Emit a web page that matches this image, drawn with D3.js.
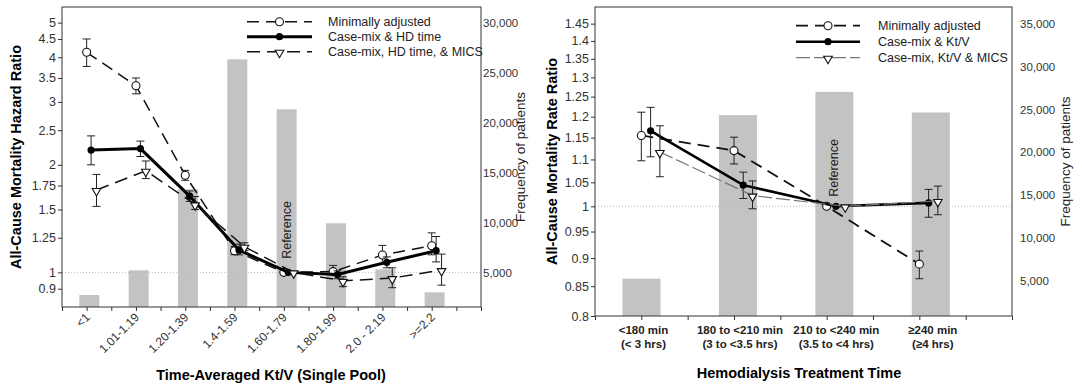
<!DOCTYPE html>
<html>
<head>
<meta charset="utf-8">
<script src="https://cdn.jsdelivr.net/npm/d3@7"></script>
<style>
  body { margin: 0; background: #fff; }
  svg { font-family: "Liberation Sans", Arial, sans-serif; }
</style>
</head>
<body>
<svg id="chart" width="1082" height="388"></svg>
<script>
// ---- left panel: time-averaged Kt/V ----
const ktvCategories = ["<1", "1.01-1.19", "1.20-1.39", "1.4-1.59", "1.60-1.79", "1.80-1.99", "2.0 - 2.19", ">=2.2"];
const ktvFreq = [2830, 5300, 13400, 26400, 21400, 10000, 5400, 3100];
const ktvMinimal   = [4.13, 3.33, 1.87, 1.15, 1, 1.005, 1.118, 1.187];
const ktvMinimalLo = [3.77, 3.16, 1.81, 1.12, null, 0.985, 1.055, 1.12];
const ktvMinimalHi = [4.5, 3.5, 1.93, 1.18, null, 1.046, 1.19, 1.29];
const ktvCase   = [2.2, 2.22, 1.635, 1.155, 1, 0.986, 1.067, 1.15];
const ktvCaseLo = [2.0, 2.11, 1.58, 1.12, null, 0.96, 1.03, 1.07];
const ktvCaseHi = [2.41, 2.33, 1.69, 1.2, null, 1.01, 1.105, 1.26];
const ktvMics   = [1.70, 1.925, 1.55, 1.18, 1, 0.947, 0.964, 1.015];
const ktvMicsLo = [1.53, 1.83, 1.5, 1.15, null, 0.912, 0.906, 0.921];
const ktvMicsHi = [1.88, 2.05, 1.63, 1.21, null, 0.972, 1.03, 1.125];
const ktvLegend = ["Minimally adjusted", "Case-mix & HD time", "Case-mix, HD time, & MICS"];
const ktvRatioTicks = [0.9, 1, 1.25, 1.5, 1.75, 2, 2.5, 3, 3.5, 4, 4.5, 5];
const ktvFreqTicks = [5000, 10000, 15000, 20000, 25000, 30000];

// ---- right panel: treatment time ----
const timeCategories = [["<180 min", "(< 3 hrs)"], ["180 to <210 min", "(3 to <3.5 hrs)"], ["210 to <240 min", "(3.5 to <4 hrs)"], ["\u2265240 min", "(\u22654 hrs)"]];
const timeFreq = [5270, 24330, 27040, 24640];
const timeMinimal   = [1.155, 1.12, 1, 0.889];
const timeMinimalLo = [1.097, 1.09, null, 0.863];
const timeMinimalHi = [1.211, 1.151, null, 0.913];
const timeCase   = [1.166, 1.044, 1, 1.007];
const timeCaseLo = [1.106, 1.016, null, 0.978];
const timeCaseHi = [1.223, 1.072, null, 1.035];
const timeMics   = [1.117, 1.022, 1, 1.011];
const timeMicsLo = [1.062, 0.995, null, 0.983];
const timeMicsHi = [1.178, 1.053, null, 1.042];
const timeLegend = ["Minimally adjusted", "Case-mix & Kt/V", "Case-mix, Kt/V & MICS"];
const timeRatioTicks = [0.8, 0.85, 0.9, 0.95, 1, 1.05, 1.1, 1.15, 1.2, 1.25, 1.3, 1.35, 1.4, 1.45];
const timeFreqTicks = [5000, 10000, 15000, 20000, 25000, 30000, 35000];

const svg = d3.select("#chart");
const BAR = "#c3c3c3";

function marker(sel, kind, x, y) {
  if (kind === "open") {
    sel.append("circle").attr("cx", x).attr("cy", y).attr("r", 4)
      .attr("fill", "#fff").attr("stroke", "#111").attr("stroke-width", 1.1);
  } else if (kind === "filled") {
    sel.append("circle").attr("cx", x).attr("cy", y).attr("r", 3.6).attr("fill", "#000");
  } else {
    sel.append("path").attr("d", d3.symbol(d3.symbolTriangle, 32)())
      .attr("transform", `translate(${x},${y + 1}) rotate(180)`)
      .attr("fill", "#fff").attr("stroke", "#111").attr("stroke-width", 1.1);
  }
}

function drawPanel(p) {
  const g = svg.append("g");
  const n = p.categories.length;
  const x = d3.scaleLinear().domain([-0.5, n]).range([p.left, p.right]);
  const slot = x(1) - x(0);
  const y = d3.scaleLog().domain(p.ratioDomain).range([p.bottom, p.top]);
  const yf = d3.scaleLinear().domain(p.freqDomain).range([p.bottom, p.top]);

  // frequency bars
  g.selectAll(".bar").data(p.freq).enter().append("rect")
    .attr("x", (d, i) => p.barX(i) - p.barWidth / 2)
    .attr("y", d => yf(d))
    .attr("width", p.barWidth)
    .attr("height", d => p.bottom - yf(d))
    .attr("fill", BAR);

  // dotted line at ratio 1
  g.append("line")
    .attr("x1", p.left).attr("x2", p.right)
    .attr("y1", y(1)).attr("y2", y(1))
    .attr("stroke", "#bbb").attr("stroke-width", 1).attr("stroke-dasharray", "1,2");

  g.append("text")
    .attr("transform", `translate(${p.barX(p.refIndex) + 4},${p.refY}) rotate(-90)`)
    .attr("text-anchor", "middle").attr("font-size", 12.5).attr("fill", "#222")
    .text("Reference");

  // series
  p.series.forEach(s => {
    const sx = i => x(i) + s.offset * slot;
    const line = d3.line().x((d, i) => sx(i)).y(d => y(d));
    g.append("path").datum(s.values).attr("d", line)
      .attr("fill", "none").attr("stroke", s.color)
      .attr("stroke-width", s.width).attr("stroke-dasharray", s.dash);

    s.values.forEach((v, i) => {
      if (s.lo[i] == null) return;
      const ex = sx(i), y0 = y(s.lo[i]), y1 = y(s.hi[i]);
      g.append("path")
        .attr("d", `M${ex},${y0}V${y1}M${ex - 4},${y0}H${ex + 4}M${ex - 4},${y1}H${ex + 4}`)
        .attr("fill", "none").attr("stroke", "#222").attr("stroke-width", 1);
    });
    s.values.forEach((v, i) => marker(g, s.marker, sx(i), y(v)));
  });

  // frame
  g.append("rect")
    .attr("x", p.left).attr("y", p.top)
    .attr("width", p.right - p.left).attr("height", p.bottom - p.top)
    .attr("fill", "none").attr("stroke", "#333").attr("stroke-width", 1);

  // left ratio axis
  const ay = g.append("g").attr("transform", `translate(${p.left},0)`)
    .call(d3.axisLeft(y).tickValues(p.ratioTicks).tickFormat(d => d).tickSize(4).tickPadding(2));
  ay.select(".domain").remove();
  ay.selectAll("text").attr("font-size", 12.5).attr("fill", "#333").attr("font-family", null);
  ay.selectAll("line").attr("stroke", "#333");

  // right frequency axis
  const af = g.append("g").attr("transform", `translate(${p.right},0)`)
    .call(d3.axisRight(yf).tickValues(p.freqTicks).tickFormat(d3.format(",")).tickSize(0).tickPadding(p.freqPad));
  af.select(".domain").remove();
  af.selectAll("text").attr("font-size", 11.5).attr("fill", "#333").attr("font-family", null);

  // bottom axis ticks
  const halfTicks = d3.range(-0.5, n + 0.01, 0.5);
  const ax = g.append("g").attr("transform", `translate(0,${p.bottom})`)
    .call(d3.axisBottom(x).tickValues(halfTicks).tickFormat("").tickSize(4));
  ax.select(".domain").remove();
  ax.selectAll("line").attr("stroke", "#333");

  // category labels
  if (p.rotated) {
    p.categories.forEach((c, i) => {
      g.append("text")
        .attr("transform", `translate(${x(i) + 4},${p.bottom + 11}) rotate(-45)`)
        .attr("text-anchor", "end").attr("font-size", 12).attr("fill", "#333")
        .text(c);
    });
  } else {
    p.categories.forEach((c, i) => {
      const t = g.append("text").attr("text-anchor", "middle")
        .attr("font-size", 11.5).attr("font-weight", "bold").attr("fill", "#222");
      t.append("tspan").attr("x", p.barX(i) + 2).attr("y", p.bottom + 18).text(c[0]);
      t.append("tspan").attr("x", p.barX(i) + 2).attr("y", p.bottom + 32).text(c[1]);
    });
  }

  // titles
  g.append("text").attr("x", p.xTitleX).attr("y", p.xTitleY)
    .attr("text-anchor", "middle").attr("font-size", 14.5).attr("font-weight", "bold")
    .text(p.xTitle);
  g.append("text")
    .attr("transform", `translate(${p.yTitleX},${(p.top + p.bottom) / 2}) rotate(-90)`)
    .attr("text-anchor", "middle").attr("font-size", 14.5).attr("font-weight", "bold")
    .text(p.yTitle);
  g.append("text")
    .attr("transform", `translate(${p.freqTitleX},${(p.top + p.bottom) / 2}) rotate(-90)`)
    .attr("text-anchor", "middle").attr("font-size", 13.5).attr("fill", "#222")
    .text("Frequency of patients");

  // legend
  p.series.forEach((s, k) => {
    const ly = p.legendRows[k];
    g.append("line").attr("x1", p.legendX[0]).attr("x2", p.legendX[1])
      .attr("y1", ly).attr("y2", ly)
      .attr("stroke", s.color).attr("stroke-width", s.width).attr("stroke-dasharray", s.dash);
    marker(g, s.marker, (p.legendX[0] + p.legendX[1]) / 2, ly);
    g.append("text").attr("x", p.legendX[2]).attr("y", ly + 4.5)
      .attr("font-size", 12.5).attr("fill", "#222").text(p.legend[k]);
  });
}

drawPanel({
  categories: ktvCategories, rotated: true,
  left: 62, right: 481, top: 7, bottom: 307,
  ratioDomain: [0.8, 5.53], ratioTicks: ktvRatioTicks,
  freqDomain: [1630, 31630], freqTicks: ktvFreqTicks, freqPad: 2,
  freq: ktvFreq, barWidth: 20,
  barX: d3.scaleLinear().domain([0, 7]).range([89.3, 434.6]),
  refIndex: 4, refY: 230,
  series: [
    { values: ktvMinimal, lo: ktvMinimalLo, hi: ktvMinimalHi, marker: "open", offset: 0, color: "#111", width: 1.5, dash: "12,7" },
    { values: ktvCase, lo: ktvCaseLo, hi: ktvCaseHi, marker: "filled", offset: 0.09, color: "#000", width: 3, dash: null },
    { values: ktvMics, lo: ktvMicsLo, hi: ktvMicsHi, marker: "tri", offset: 0.2, color: "#111", width: 1.5, dash: "13,7" }
  ],
  legend: ktvLegend, legendRows: [21.7, 36.7, 51.7], legendX: [247, 312, 328],
  xTitle: "Time-Averaged Kt/V (Single Pool)", xTitleX: 271, xTitleY: 380,
  yTitle: "All-Cause Mortality Hazard Ratio", yTitleX: 21,
  freqTitleX: 525
});

drawPanel({
  categories: timeCategories, rotated: false,
  left: 595, right: 1012, top: 7, bottom: 316,
  ratioDomain: [0.8, 1.5], ratioTicks: timeRatioTicks,
  freqDomain: [926, 36932], freqTicks: timeFreqTicks, freqPad: 8,
  freq: timeFreq, barWidth: 38,
  barX: d3.scaleLinear().domain([0, 3]).range([641.5, 930.8]),
  refIndex: 2, refY: 168,
  series: [
    { values: timeMinimal, lo: timeMinimalLo, hi: timeMinimalHi, marker: "open", offset: 0, color: "#111", width: 1.8, dash: "12,7" },
    { values: timeCase, lo: timeCaseLo, hi: timeCaseHi, marker: "filled", offset: 0.1, color: "#000", width: 2.6, dash: null },
    { values: timeMics, lo: timeMicsLo, hi: timeMicsHi, marker: "tri", offset: 0.2, color: "#777", width: 1.2, dash: "14,4" }
  ],
  legend: timeLegend, legendRows: [25.7, 41.7, 57.7], legendX: [796, 860, 878],
  xTitle: "Hemodialysis Treatment Time", xTitleX: 799, xTitleY: 378,
  yTitle: "All-Cause Mortality Rate Ratio", yTitleX: 557,
  freqTitleX: 1070
});
</script>
</body>
</html>
